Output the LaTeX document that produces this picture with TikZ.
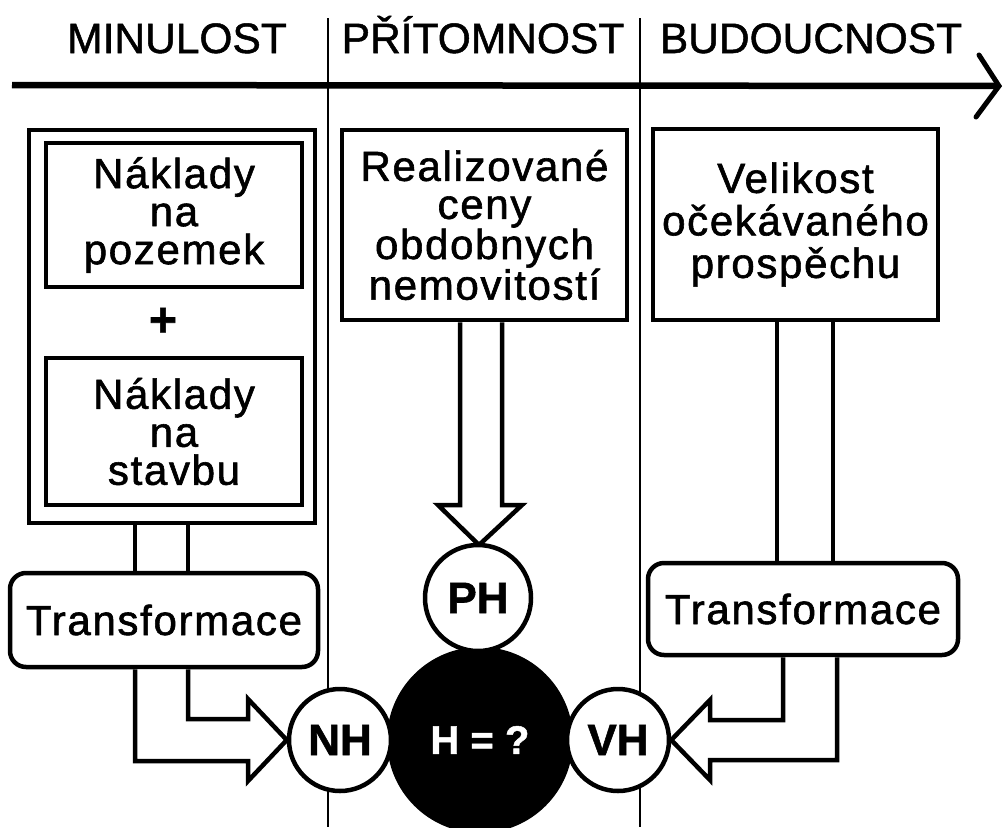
\documentclass[tikz,border=0pt]{standalone}
\usepackage{fontspec}
\setmainfont{Liberation Sans}[FakeBold=1.2]
\newfontfamily\boxfont{Liberation Sans}[LetterSpace=4,FakeBold=1.4]
\usetikzlibrary{calc}
\begin{document}
\begin{tikzpicture}[x=1pt,y=-1pt,
  hdr/.style={anchor=base, inner sep=0pt, font=\fontsize{42.5}{42}\selectfont},
  box/.style={draw, line width=4.5pt, fill=white, inner sep=0pt, align=center, font=\boxfont\fontsize{42}{38}\selectfont},
  trbox/.style={box, rounded corners=16pt},
  circ/.style={circle, draw, line width=4.5pt, fill=white, inner sep=0pt, minimum size=102pt, font=\bfseries\fontsize{44}{44}\selectfont},
  hollow/.style={draw, line width=4.5pt, line join=miter, fill=white},
  stem/.style={line width=4.5pt},
  divider/.style={line width=1.5pt},
  axis/.style={line width=6.5pt},
  chevron/.style={line width=5pt, line cap=round, line join=miter}
]
\useasboundingbox (0,0) rectangle (1003,827);

% dividers
\coordinate (d1t) at (328,18); \coordinate (d1b) at (328,827);
\coordinate (d2t) at (640,18); \coordinate (d2b) at (640,827);
\draw[divider] (d1t) -- (d1b);
\draw[divider] (d2t) -- (d2b);

% header
\node[hdr] (minulost) at (177,53) {MINULOST};
\node[hdr] (pritomnost) at (483,53) {PŘÍTOMNOST};
\node[hdr] (budoucnost) at (811,53) {BUDOUCNOST};
\coordinate (axL) at (12,85);
\coordinate (axR) at (999,86);
\draw[axis] (axL) -- ($(axR)+(-3,0)$);
\draw[chevron] ($(axR)+(-20,-31)$) -- (axR) -- ($(axR)+(-23,31)$);

% left column
\node[draw, line width=4.5pt, minimum width=286pt, minimum height=393pt, inner sep=0pt] (outer) at (172,326.5) {};
\node[box, minimum width=256pt, minimum height=144pt] (nak1) at (174,215) {Náklady\\na\\pozemek};
\node[inner sep=0pt, font=\bfseries\fontsize{48}{48}\selectfont] (plus) at (163,322) {+};
\node[box, minimum width=256pt, minimum height=147pt] (nak2) at (174,431.5) {Náklady\\na\\stavbu};
\node[trbox, minimum width=308pt, minimum height=94pt] (trL) at (164,620) {Transformace};

% middle column
\node[box, minimum width=285pt, minimum height=190pt] (real) at (484.5,225) {Realizované\\ceny\\obdobnych\\nemovitostí};

% right column
\node[box, minimum width=285pt, minimum height=191pt, font=\boxfont\fontsize{42}{42.5}\selectfont] (vel) at (795.5,224.5) {Velikost\\očekávaného\\prospěchu};
\node[trbox, minimum width=310pt, minimum height=92pt] (trR) at (803,609) {Transformace};

% central circles
\node[circle, fill=black, minimum size=186pt, inner sep=0pt, text=white, font=\bfseries\fontsize{40}{40}\selectfont] (H) at (480,740) {H = ?};
\node[circ] (NH) at (340,740) {NH};
\node[circ] (VH) at (618,740) {VH};

% stems left
\coordinate (sL1) at (135,0); \coordinate (sL2) at (188,0);
\draw[stem] (sL1 |- outer.south) -- (sL1 |- trL.north);
\draw[stem] (sL2 |- outer.south) -- (sL2 |- trL.north);
% broad arrow left
\path[hollow] (sL1 |- trL.south) -- (135,761) -- (248,761) -- (248,781) -- (NH.west) -- (248,699) -- (248,719) -- (188,719) -- (sL2 |- trL.south);

% stems right
\coordinate (sR1) at (777,0); \coordinate (sR2) at (833,0);
\draw[stem] (sR1 |- vel.south) -- (sR1 |- trR.north);
\draw[stem] (sR2 |- vel.south) -- (sR2 |- trR.north);
\coordinate (sR3) at (783,0); \coordinate (sR4) at (837,0);
\path[hollow] (sR4 |- trR.south) -- (837,760) -- (710,760) -- (710,780) -- (VH.east) -- (710,700) -- (710,720) -- (783,720) -- (sR3 |- trR.south);

% middle broad arrow
\coordinate (sM1) at (460,0); \coordinate (sM2) at (502,0);
\path[hollow] (sM1 |- real.south) -- (460,505) -- (438,505) -- (479,545) -- (522,505) -- (502,505) -- (sM2 |- real.south);
\node[circ, minimum size=106pt] (PH) at (478,598) {PH};
\end{tikzpicture}
\end{document}
